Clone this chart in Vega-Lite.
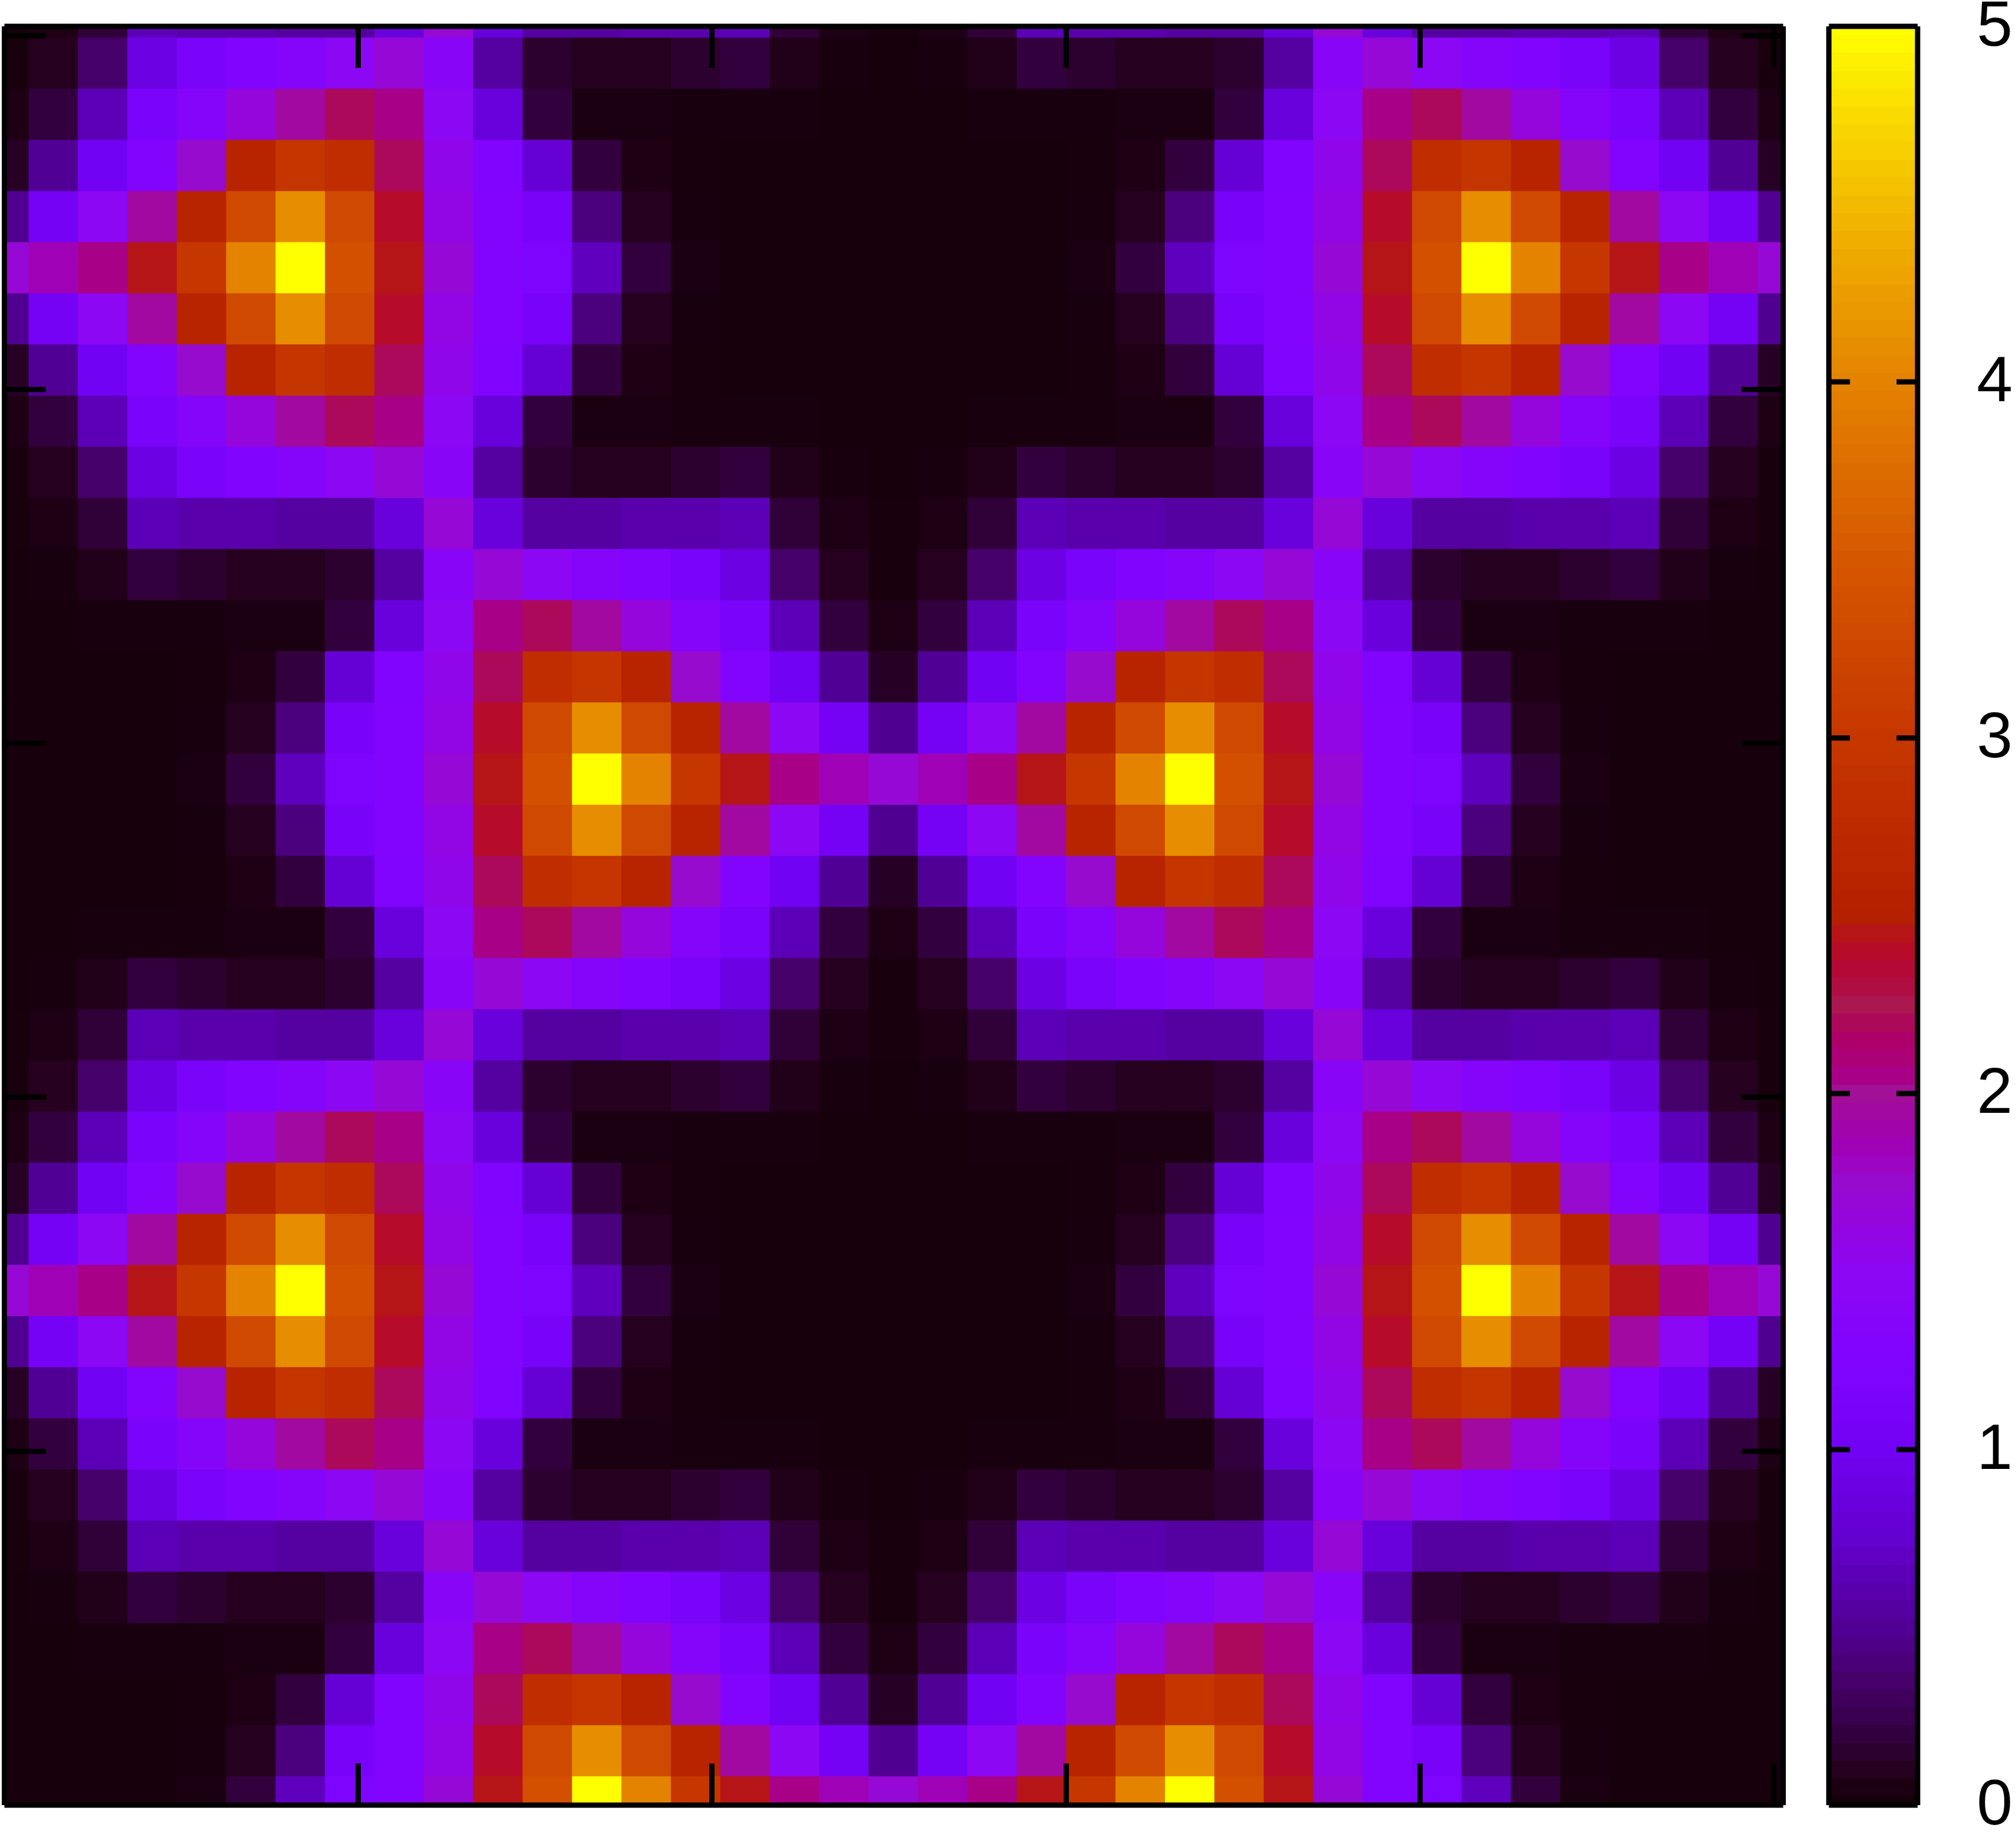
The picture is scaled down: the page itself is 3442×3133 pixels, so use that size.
{"$schema":"https://vega.github.io/schema/vega-lite/v6.json","background":"white","padding":{"left":2,"top":-10.5,"right":0,"bottom":0},"spacing":68,"config":{"view":{"stroke":null},"axis":{"grid":false,"title":null,"labels":false,"domain":true,"domainColor":"black","domainWidth":9,"tickColor":"black","tickWidth":9}},"hconcat":[{"width":3037,"height":3037,"layer":[{"data":{"values":[
{"x":0,"y":0,"v":0.02},{"x":1,"y":0,"v":0.02},{"x":2,"y":0,"v":0.02},{"x":3,"y":0,"v":0.02},{"x":4,"y":0,"v":0.05},{"x":5,"y":0,"v":0.2},{"x":6,"y":0,"v":0.68},{"x":7,"y":0,"v":1.2},{"x":8,"y":0,"v":1.3},{"x":9,"y":0,"v":1.7},{"x":10,"y":0,"v":2.45},{"x":11,"y":0,"v":3.4},{"x":12,"y":0,"v":5},{"x":13,"y":0,"v":4},{"x":14,"y":0,"v":3},{"x":15,"y":0,"v":2.45},{"x":16,"y":0,"v":2.05},{"x":17,"y":0,"v":1.85},{"x":18,"y":0,"v":1.7},{"x":19,"y":0,"v":1.85},{"x":20,"y":0,"v":2.05},{"x":21,"y":0,"v":2.45},{"x":22,"y":0,"v":3},{"x":23,"y":0,"v":4},{"x":24,"y":0,"v":5},{"x":25,"y":0,"v":3.4},{"x":26,"y":0,"v":2.45},{"x":27,"y":0,"v":1.7},{"x":28,"y":0,"v":1.3},{"x":29,"y":0,"v":1.2},{"x":30,"y":0,"v":0.68},{"x":31,"y":0,"v":0.2},{"x":32,"y":0,"v":0.05},{"x":33,"y":0,"v":0.02},{"x":34,"y":0,"v":0.02},{"x":35,"y":0,"v":0.02},{"x":36,"y":0,"v":0.02},
{"x":0,"y":1,"v":0.02},{"x":1,"y":1,"v":0.02},{"x":2,"y":1,"v":0.02},{"x":3,"y":1,"v":0.02},{"x":4,"y":1,"v":0.04},{"x":5,"y":1,"v":0.1},{"x":6,"y":1,"v":0.42},{"x":7,"y":1,"v":1.1},{"x":8,"y":1,"v":1.3},{"x":9,"y":1,"v":1.6},{"x":10,"y":1,"v":2.4},{"x":11,"y":1,"v":3.3},{"x":12,"y":1,"v":4.1},{"x":13,"y":1,"v":3.3},{"x":14,"y":1,"v":2.6},{"x":15,"y":1,"v":1.95},{"x":16,"y":1,"v":1.5},{"x":17,"y":1,"v":1.05},{"x":18,"y":1,"v":0.48},{"x":19,"y":1,"v":1.05},{"x":20,"y":1,"v":1.5},{"x":21,"y":1,"v":1.95},{"x":22,"y":1,"v":2.6},{"x":23,"y":1,"v":3.3},{"x":24,"y":1,"v":4.1},{"x":25,"y":1,"v":3.3},{"x":26,"y":1,"v":2.4},{"x":27,"y":1,"v":1.6},{"x":28,"y":1,"v":1.3},{"x":29,"y":1,"v":1.1},{"x":30,"y":1,"v":0.42},{"x":31,"y":1,"v":0.1},{"x":32,"y":1,"v":0.04},{"x":33,"y":1,"v":0.02},{"x":34,"y":1,"v":0.02},{"x":35,"y":1,"v":0.02},{"x":36,"y":1,"v":0.02},
{"x":0,"y":2,"v":0.02},{"x":1,"y":2,"v":0.02},{"x":2,"y":2,"v":0.02},{"x":3,"y":2,"v":0.02},{"x":4,"y":2,"v":0.03},{"x":5,"y":2,"v":0.06},{"x":6,"y":2,"v":0.2},{"x":7,"y":2,"v":0.8},{"x":8,"y":2,"v":1.25},{"x":9,"y":2,"v":1.55},{"x":10,"y":2,"v":2.2},{"x":11,"y":2,"v":2.8},{"x":12,"y":2,"v":2.95},{"x":13,"y":2,"v":2.6},{"x":14,"y":2,"v":1.75},{"x":15,"y":2,"v":1.3},{"x":16,"y":2,"v":1},{"x":17,"y":2,"v":0.5},{"x":18,"y":2,"v":0.12},{"x":19,"y":2,"v":0.5},{"x":20,"y":2,"v":1},{"x":21,"y":2,"v":1.3},{"x":22,"y":2,"v":1.75},{"x":23,"y":2,"v":2.6},{"x":24,"y":2,"v":2.95},{"x":25,"y":2,"v":2.8},{"x":26,"y":2,"v":2.2},{"x":27,"y":2,"v":1.55},{"x":28,"y":2,"v":1.25},{"x":29,"y":2,"v":0.8},{"x":30,"y":2,"v":0.2},{"x":31,"y":2,"v":0.06},{"x":32,"y":2,"v":0.03},{"x":33,"y":2,"v":0.02},{"x":34,"y":2,"v":0.02},{"x":35,"y":2,"v":0.02},{"x":36,"y":2,"v":0.02},
{"x":0,"y":3,"v":0.02},{"x":1,"y":3,"v":0.02},{"x":2,"y":3,"v":0.04},{"x":3,"y":3,"v":0.04},{"x":4,"y":3,"v":0.04},{"x":5,"y":3,"v":0.05},{"x":6,"y":3,"v":0.05},{"x":7,"y":3,"v":0.2},{"x":8,"y":3,"v":0.85},{"x":9,"y":3,"v":1.5},{"x":10,"y":3,"v":2.05},{"x":11,"y":3,"v":2.2},{"x":12,"y":3,"v":1.95},{"x":13,"y":3,"v":1.65},{"x":14,"y":3,"v":1.35},{"x":15,"y":3,"v":1.15},{"x":16,"y":3,"v":0.65},{"x":17,"y":3,"v":0.2},{"x":18,"y":3,"v":0.06},{"x":19,"y":3,"v":0.2},{"x":20,"y":3,"v":0.65},{"x":21,"y":3,"v":1.15},{"x":22,"y":3,"v":1.35},{"x":23,"y":3,"v":1.65},{"x":24,"y":3,"v":1.95},{"x":25,"y":3,"v":2.2},{"x":26,"y":3,"v":2.05},{"x":27,"y":3,"v":1.5},{"x":28,"y":3,"v":0.85},{"x":29,"y":3,"v":0.2},{"x":30,"y":3,"v":0.05},{"x":31,"y":3,"v":0.05},{"x":32,"y":3,"v":0.04},{"x":33,"y":3,"v":0.04},{"x":34,"y":3,"v":0.04},{"x":35,"y":3,"v":0.02},{"x":36,"y":3,"v":0.02},
{"x":0,"y":4,"v":0.02},{"x":1,"y":4,"v":0.04},{"x":2,"y":4,"v":0.08},{"x":3,"y":4,"v":0.2},{"x":4,"y":4,"v":0.15},{"x":5,"y":4,"v":0.1},{"x":6,"y":4,"v":0.1},{"x":7,"y":4,"v":0.15},{"x":8,"y":4,"v":0.55},{"x":9,"y":4,"v":1.4},{"x":10,"y":4,"v":1.7},{"x":11,"y":4,"v":1.5},{"x":12,"y":4,"v":1.35},{"x":13,"y":4,"v":1.25},{"x":14,"y":4,"v":1.15},{"x":15,"y":4,"v":0.9},{"x":16,"y":4,"v":0.35},{"x":17,"y":4,"v":0.1},{"x":18,"y":4,"v":0.03},{"x":19,"y":4,"v":0.1},{"x":20,"y":4,"v":0.35},{"x":21,"y":4,"v":0.9},{"x":22,"y":4,"v":1.15},{"x":23,"y":4,"v":1.25},{"x":24,"y":4,"v":1.35},{"x":25,"y":4,"v":1.5},{"x":26,"y":4,"v":1.7},{"x":27,"y":4,"v":1.4},{"x":28,"y":4,"v":0.55},{"x":29,"y":4,"v":0.15},{"x":30,"y":4,"v":0.1},{"x":31,"y":4,"v":0.1},{"x":32,"y":4,"v":0.15},{"x":33,"y":4,"v":0.2},{"x":34,"y":4,"v":0.08},{"x":35,"y":4,"v":0.04},{"x":36,"y":4,"v":0.02},
{"x":0,"y":5,"v":0.03},{"x":1,"y":5,"v":0.06},{"x":2,"y":5,"v":0.18},{"x":3,"y":5,"v":0.65},{"x":4,"y":5,"v":0.6},{"x":5,"y":5,"v":0.6},{"x":6,"y":5,"v":0.55},{"x":7,"y":5,"v":0.55},{"x":8,"y":5,"v":0.85},{"x":9,"y":5,"v":1.7},{"x":10,"y":5,"v":0.85},{"x":11,"y":5,"v":0.55},{"x":12,"y":5,"v":0.55},{"x":13,"y":5,"v":0.6},{"x":14,"y":5,"v":0.6},{"x":15,"y":5,"v":0.65},{"x":16,"y":5,"v":0.18},{"x":17,"y":5,"v":0.06},{"x":18,"y":5,"v":0.03},{"x":19,"y":5,"v":0.06},{"x":20,"y":5,"v":0.18},{"x":21,"y":5,"v":0.65},{"x":22,"y":5,"v":0.6},{"x":23,"y":5,"v":0.6},{"x":24,"y":5,"v":0.55},{"x":25,"y":5,"v":0.55},{"x":26,"y":5,"v":0.85},{"x":27,"y":5,"v":1.7},{"x":28,"y":5,"v":0.85},{"x":29,"y":5,"v":0.55},{"x":30,"y":5,"v":0.55},{"x":31,"y":5,"v":0.6},{"x":32,"y":5,"v":0.6},{"x":33,"y":5,"v":0.65},{"x":34,"y":5,"v":0.18},{"x":35,"y":5,"v":0.06},{"x":36,"y":5,"v":0.03},
{"x":0,"y":6,"v":0.03},{"x":1,"y":6,"v":0.1},{"x":2,"y":6,"v":0.35},{"x":3,"y":6,"v":0.9},{"x":4,"y":6,"v":1.15},{"x":5,"y":6,"v":1.25},{"x":6,"y":6,"v":1.35},{"x":7,"y":6,"v":1.5},{"x":8,"y":6,"v":1.7},{"x":9,"y":6,"v":1.4},{"x":10,"y":6,"v":0.55},{"x":11,"y":6,"v":0.15},{"x":12,"y":6,"v":0.1},{"x":13,"y":6,"v":0.1},{"x":14,"y":6,"v":0.15},{"x":15,"y":6,"v":0.2},{"x":16,"y":6,"v":0.08},{"x":17,"y":6,"v":0.04},{"x":18,"y":6,"v":0.02},{"x":19,"y":6,"v":0.04},{"x":20,"y":6,"v":0.08},{"x":21,"y":6,"v":0.2},{"x":22,"y":6,"v":0.15},{"x":23,"y":6,"v":0.1},{"x":24,"y":6,"v":0.1},{"x":25,"y":6,"v":0.15},{"x":26,"y":6,"v":0.55},{"x":27,"y":6,"v":1.4},{"x":28,"y":6,"v":1.7},{"x":29,"y":6,"v":1.5},{"x":30,"y":6,"v":1.35},{"x":31,"y":6,"v":1.25},{"x":32,"y":6,"v":1.15},{"x":33,"y":6,"v":0.9},{"x":34,"y":6,"v":0.35},{"x":35,"y":6,"v":0.1},{"x":36,"y":6,"v":0.03},
{"x":0,"y":7,"v":0.06},{"x":1,"y":7,"v":0.2},{"x":2,"y":7,"v":0.65},{"x":3,"y":7,"v":1.15},{"x":4,"y":7,"v":1.35},{"x":5,"y":7,"v":1.65},{"x":6,"y":7,"v":1.95},{"x":7,"y":7,"v":2.2},{"x":8,"y":7,"v":2.05},{"x":9,"y":7,"v":1.5},{"x":10,"y":7,"v":0.85},{"x":11,"y":7,"v":0.2},{"x":12,"y":7,"v":0.05},{"x":13,"y":7,"v":0.05},{"x":14,"y":7,"v":0.04},{"x":15,"y":7,"v":0.04},{"x":16,"y":7,"v":0.04},{"x":17,"y":7,"v":0.02},{"x":18,"y":7,"v":0.02},{"x":19,"y":7,"v":0.02},{"x":20,"y":7,"v":0.04},{"x":21,"y":7,"v":0.04},{"x":22,"y":7,"v":0.04},{"x":23,"y":7,"v":0.05},{"x":24,"y":7,"v":0.05},{"x":25,"y":7,"v":0.2},{"x":26,"y":7,"v":0.85},{"x":27,"y":7,"v":1.5},{"x":28,"y":7,"v":2.05},{"x":29,"y":7,"v":2.2},{"x":30,"y":7,"v":1.95},{"x":31,"y":7,"v":1.65},{"x":32,"y":7,"v":1.35},{"x":33,"y":7,"v":1.15},{"x":34,"y":7,"v":0.65},{"x":35,"y":7,"v":0.2},{"x":36,"y":7,"v":0.06},
{"x":0,"y":8,"v":0.12},{"x":1,"y":8,"v":0.5},{"x":2,"y":8,"v":1},{"x":3,"y":8,"v":1.3},{"x":4,"y":8,"v":1.75},{"x":5,"y":8,"v":2.6},{"x":6,"y":8,"v":2.95},{"x":7,"y":8,"v":2.8},{"x":8,"y":8,"v":2.2},{"x":9,"y":8,"v":1.55},{"x":10,"y":8,"v":1.25},{"x":11,"y":8,"v":0.8},{"x":12,"y":8,"v":0.2},{"x":13,"y":8,"v":0.06},{"x":14,"y":8,"v":0.03},{"x":15,"y":8,"v":0.02},{"x":16,"y":8,"v":0.02},{"x":17,"y":8,"v":0.02},{"x":18,"y":8,"v":0.02},{"x":19,"y":8,"v":0.02},{"x":20,"y":8,"v":0.02},{"x":21,"y":8,"v":0.02},{"x":22,"y":8,"v":0.03},{"x":23,"y":8,"v":0.06},{"x":24,"y":8,"v":0.2},{"x":25,"y":8,"v":0.8},{"x":26,"y":8,"v":1.25},{"x":27,"y":8,"v":1.55},{"x":28,"y":8,"v":2.2},{"x":29,"y":8,"v":2.8},{"x":30,"y":8,"v":2.95},{"x":31,"y":8,"v":2.6},{"x":32,"y":8,"v":1.75},{"x":33,"y":8,"v":1.3},{"x":34,"y":8,"v":1},{"x":35,"y":8,"v":0.5},{"x":36,"y":8,"v":0.12},
{"x":0,"y":9,"v":0.48},{"x":1,"y":9,"v":1.05},{"x":2,"y":9,"v":1.5},{"x":3,"y":9,"v":1.95},{"x":4,"y":9,"v":2.6},{"x":5,"y":9,"v":3.3},{"x":6,"y":9,"v":4.1},{"x":7,"y":9,"v":3.3},{"x":8,"y":9,"v":2.4},{"x":9,"y":9,"v":1.6},{"x":10,"y":9,"v":1.3},{"x":11,"y":9,"v":1.1},{"x":12,"y":9,"v":0.42},{"x":13,"y":9,"v":0.1},{"x":14,"y":9,"v":0.04},{"x":15,"y":9,"v":0.02},{"x":16,"y":9,"v":0.02},{"x":17,"y":9,"v":0.02},{"x":18,"y":9,"v":0.02},{"x":19,"y":9,"v":0.02},{"x":20,"y":9,"v":0.02},{"x":21,"y":9,"v":0.02},{"x":22,"y":9,"v":0.04},{"x":23,"y":9,"v":0.1},{"x":24,"y":9,"v":0.42},{"x":25,"y":9,"v":1.1},{"x":26,"y":9,"v":1.3},{"x":27,"y":9,"v":1.6},{"x":28,"y":9,"v":2.4},{"x":29,"y":9,"v":3.3},{"x":30,"y":9,"v":4.1},{"x":31,"y":9,"v":3.3},{"x":32,"y":9,"v":2.6},{"x":33,"y":9,"v":1.95},{"x":34,"y":9,"v":1.5},{"x":35,"y":9,"v":1.05},{"x":36,"y":9,"v":0.48},
{"x":0,"y":10,"v":1.7},{"x":1,"y":10,"v":1.85},{"x":2,"y":10,"v":2.05},{"x":3,"y":10,"v":2.45},{"x":4,"y":10,"v":3},{"x":5,"y":10,"v":4},{"x":6,"y":10,"v":5},{"x":7,"y":10,"v":3.4},{"x":8,"y":10,"v":2.45},{"x":9,"y":10,"v":1.7},{"x":10,"y":10,"v":1.3},{"x":11,"y":10,"v":1.2},{"x":12,"y":10,"v":0.68},{"x":13,"y":10,"v":0.2},{"x":14,"y":10,"v":0.05},{"x":15,"y":10,"v":0.02},{"x":16,"y":10,"v":0.02},{"x":17,"y":10,"v":0.02},{"x":18,"y":10,"v":0.02},{"x":19,"y":10,"v":0.02},{"x":20,"y":10,"v":0.02},{"x":21,"y":10,"v":0.02},{"x":22,"y":10,"v":0.05},{"x":23,"y":10,"v":0.2},{"x":24,"y":10,"v":0.68},{"x":25,"y":10,"v":1.2},{"x":26,"y":10,"v":1.3},{"x":27,"y":10,"v":1.7},{"x":28,"y":10,"v":2.45},{"x":29,"y":10,"v":3.4},{"x":30,"y":10,"v":5},{"x":31,"y":10,"v":4},{"x":32,"y":10,"v":3},{"x":33,"y":10,"v":2.45},{"x":34,"y":10,"v":2.05},{"x":35,"y":10,"v":1.85},{"x":36,"y":10,"v":1.7},
{"x":0,"y":11,"v":0.48},{"x":1,"y":11,"v":1.05},{"x":2,"y":11,"v":1.5},{"x":3,"y":11,"v":1.95},{"x":4,"y":11,"v":2.6},{"x":5,"y":11,"v":3.3},{"x":6,"y":11,"v":4.1},{"x":7,"y":11,"v":3.3},{"x":8,"y":11,"v":2.4},{"x":9,"y":11,"v":1.6},{"x":10,"y":11,"v":1.3},{"x":11,"y":11,"v":1.1},{"x":12,"y":11,"v":0.42},{"x":13,"y":11,"v":0.1},{"x":14,"y":11,"v":0.04},{"x":15,"y":11,"v":0.02},{"x":16,"y":11,"v":0.02},{"x":17,"y":11,"v":0.02},{"x":18,"y":11,"v":0.02},{"x":19,"y":11,"v":0.02},{"x":20,"y":11,"v":0.02},{"x":21,"y":11,"v":0.02},{"x":22,"y":11,"v":0.04},{"x":23,"y":11,"v":0.1},{"x":24,"y":11,"v":0.42},{"x":25,"y":11,"v":1.1},{"x":26,"y":11,"v":1.3},{"x":27,"y":11,"v":1.6},{"x":28,"y":11,"v":2.4},{"x":29,"y":11,"v":3.3},{"x":30,"y":11,"v":4.1},{"x":31,"y":11,"v":3.3},{"x":32,"y":11,"v":2.6},{"x":33,"y":11,"v":1.95},{"x":34,"y":11,"v":1.5},{"x":35,"y":11,"v":1.05},{"x":36,"y":11,"v":0.48},
{"x":0,"y":12,"v":0.12},{"x":1,"y":12,"v":0.5},{"x":2,"y":12,"v":1},{"x":3,"y":12,"v":1.3},{"x":4,"y":12,"v":1.75},{"x":5,"y":12,"v":2.6},{"x":6,"y":12,"v":2.95},{"x":7,"y":12,"v":2.8},{"x":8,"y":12,"v":2.2},{"x":9,"y":12,"v":1.55},{"x":10,"y":12,"v":1.25},{"x":11,"y":12,"v":0.8},{"x":12,"y":12,"v":0.2},{"x":13,"y":12,"v":0.06},{"x":14,"y":12,"v":0.03},{"x":15,"y":12,"v":0.02},{"x":16,"y":12,"v":0.02},{"x":17,"y":12,"v":0.02},{"x":18,"y":12,"v":0.02},{"x":19,"y":12,"v":0.02},{"x":20,"y":12,"v":0.02},{"x":21,"y":12,"v":0.02},{"x":22,"y":12,"v":0.03},{"x":23,"y":12,"v":0.06},{"x":24,"y":12,"v":0.2},{"x":25,"y":12,"v":0.8},{"x":26,"y":12,"v":1.25},{"x":27,"y":12,"v":1.55},{"x":28,"y":12,"v":2.2},{"x":29,"y":12,"v":2.8},{"x":30,"y":12,"v":2.95},{"x":31,"y":12,"v":2.6},{"x":32,"y":12,"v":1.75},{"x":33,"y":12,"v":1.3},{"x":34,"y":12,"v":1},{"x":35,"y":12,"v":0.5},{"x":36,"y":12,"v":0.12},
{"x":0,"y":13,"v":0.06},{"x":1,"y":13,"v":0.2},{"x":2,"y":13,"v":0.65},{"x":3,"y":13,"v":1.15},{"x":4,"y":13,"v":1.35},{"x":5,"y":13,"v":1.65},{"x":6,"y":13,"v":1.95},{"x":7,"y":13,"v":2.2},{"x":8,"y":13,"v":2.05},{"x":9,"y":13,"v":1.5},{"x":10,"y":13,"v":0.85},{"x":11,"y":13,"v":0.2},{"x":12,"y":13,"v":0.05},{"x":13,"y":13,"v":0.05},{"x":14,"y":13,"v":0.04},{"x":15,"y":13,"v":0.04},{"x":16,"y":13,"v":0.04},{"x":17,"y":13,"v":0.02},{"x":18,"y":13,"v":0.02},{"x":19,"y":13,"v":0.02},{"x":20,"y":13,"v":0.04},{"x":21,"y":13,"v":0.04},{"x":22,"y":13,"v":0.04},{"x":23,"y":13,"v":0.05},{"x":24,"y":13,"v":0.05},{"x":25,"y":13,"v":0.2},{"x":26,"y":13,"v":0.85},{"x":27,"y":13,"v":1.5},{"x":28,"y":13,"v":2.05},{"x":29,"y":13,"v":2.2},{"x":30,"y":13,"v":1.95},{"x":31,"y":13,"v":1.65},{"x":32,"y":13,"v":1.35},{"x":33,"y":13,"v":1.15},{"x":34,"y":13,"v":0.65},{"x":35,"y":13,"v":0.2},{"x":36,"y":13,"v":0.06},
{"x":0,"y":14,"v":0.03},{"x":1,"y":14,"v":0.1},{"x":2,"y":14,"v":0.35},{"x":3,"y":14,"v":0.9},{"x":4,"y":14,"v":1.15},{"x":5,"y":14,"v":1.25},{"x":6,"y":14,"v":1.35},{"x":7,"y":14,"v":1.5},{"x":8,"y":14,"v":1.7},{"x":9,"y":14,"v":1.4},{"x":10,"y":14,"v":0.55},{"x":11,"y":14,"v":0.15},{"x":12,"y":14,"v":0.1},{"x":13,"y":14,"v":0.1},{"x":14,"y":14,"v":0.15},{"x":15,"y":14,"v":0.2},{"x":16,"y":14,"v":0.08},{"x":17,"y":14,"v":0.04},{"x":18,"y":14,"v":0.02},{"x":19,"y":14,"v":0.04},{"x":20,"y":14,"v":0.08},{"x":21,"y":14,"v":0.2},{"x":22,"y":14,"v":0.15},{"x":23,"y":14,"v":0.1},{"x":24,"y":14,"v":0.1},{"x":25,"y":14,"v":0.15},{"x":26,"y":14,"v":0.55},{"x":27,"y":14,"v":1.4},{"x":28,"y":14,"v":1.7},{"x":29,"y":14,"v":1.5},{"x":30,"y":14,"v":1.35},{"x":31,"y":14,"v":1.25},{"x":32,"y":14,"v":1.15},{"x":33,"y":14,"v":0.9},{"x":34,"y":14,"v":0.35},{"x":35,"y":14,"v":0.1},{"x":36,"y":14,"v":0.03},
{"x":0,"y":15,"v":0.03},{"x":1,"y":15,"v":0.06},{"x":2,"y":15,"v":0.18},{"x":3,"y":15,"v":0.65},{"x":4,"y":15,"v":0.6},{"x":5,"y":15,"v":0.6},{"x":6,"y":15,"v":0.55},{"x":7,"y":15,"v":0.55},{"x":8,"y":15,"v":0.85},{"x":9,"y":15,"v":1.7},{"x":10,"y":15,"v":0.85},{"x":11,"y":15,"v":0.55},{"x":12,"y":15,"v":0.55},{"x":13,"y":15,"v":0.6},{"x":14,"y":15,"v":0.6},{"x":15,"y":15,"v":0.65},{"x":16,"y":15,"v":0.18},{"x":17,"y":15,"v":0.06},{"x":18,"y":15,"v":0.03},{"x":19,"y":15,"v":0.06},{"x":20,"y":15,"v":0.18},{"x":21,"y":15,"v":0.65},{"x":22,"y":15,"v":0.6},{"x":23,"y":15,"v":0.6},{"x":24,"y":15,"v":0.55},{"x":25,"y":15,"v":0.55},{"x":26,"y":15,"v":0.85},{"x":27,"y":15,"v":1.7},{"x":28,"y":15,"v":0.85},{"x":29,"y":15,"v":0.55},{"x":30,"y":15,"v":0.55},{"x":31,"y":15,"v":0.6},{"x":32,"y":15,"v":0.6},{"x":33,"y":15,"v":0.65},{"x":34,"y":15,"v":0.18},{"x":35,"y":15,"v":0.06},{"x":36,"y":15,"v":0.03},
{"x":0,"y":16,"v":0.02},{"x":1,"y":16,"v":0.04},{"x":2,"y":16,"v":0.08},{"x":3,"y":16,"v":0.2},{"x":4,"y":16,"v":0.15},{"x":5,"y":16,"v":0.1},{"x":6,"y":16,"v":0.1},{"x":7,"y":16,"v":0.15},{"x":8,"y":16,"v":0.55},{"x":9,"y":16,"v":1.4},{"x":10,"y":16,"v":1.7},{"x":11,"y":16,"v":1.5},{"x":12,"y":16,"v":1.35},{"x":13,"y":16,"v":1.25},{"x":14,"y":16,"v":1.15},{"x":15,"y":16,"v":0.9},{"x":16,"y":16,"v":0.35},{"x":17,"y":16,"v":0.1},{"x":18,"y":16,"v":0.03},{"x":19,"y":16,"v":0.1},{"x":20,"y":16,"v":0.35},{"x":21,"y":16,"v":0.9},{"x":22,"y":16,"v":1.15},{"x":23,"y":16,"v":1.25},{"x":24,"y":16,"v":1.35},{"x":25,"y":16,"v":1.5},{"x":26,"y":16,"v":1.7},{"x":27,"y":16,"v":1.4},{"x":28,"y":16,"v":0.55},{"x":29,"y":16,"v":0.15},{"x":30,"y":16,"v":0.1},{"x":31,"y":16,"v":0.1},{"x":32,"y":16,"v":0.15},{"x":33,"y":16,"v":0.2},{"x":34,"y":16,"v":0.08},{"x":35,"y":16,"v":0.04},{"x":36,"y":16,"v":0.02},
{"x":0,"y":17,"v":0.02},{"x":1,"y":17,"v":0.02},{"x":2,"y":17,"v":0.04},{"x":3,"y":17,"v":0.04},{"x":4,"y":17,"v":0.04},{"x":5,"y":17,"v":0.05},{"x":6,"y":17,"v":0.05},{"x":7,"y":17,"v":0.2},{"x":8,"y":17,"v":0.85},{"x":9,"y":17,"v":1.5},{"x":10,"y":17,"v":2.05},{"x":11,"y":17,"v":2.2},{"x":12,"y":17,"v":1.95},{"x":13,"y":17,"v":1.65},{"x":14,"y":17,"v":1.35},{"x":15,"y":17,"v":1.15},{"x":16,"y":17,"v":0.65},{"x":17,"y":17,"v":0.2},{"x":18,"y":17,"v":0.06},{"x":19,"y":17,"v":0.2},{"x":20,"y":17,"v":0.65},{"x":21,"y":17,"v":1.15},{"x":22,"y":17,"v":1.35},{"x":23,"y":17,"v":1.65},{"x":24,"y":17,"v":1.95},{"x":25,"y":17,"v":2.2},{"x":26,"y":17,"v":2.05},{"x":27,"y":17,"v":1.5},{"x":28,"y":17,"v":0.85},{"x":29,"y":17,"v":0.2},{"x":30,"y":17,"v":0.05},{"x":31,"y":17,"v":0.05},{"x":32,"y":17,"v":0.04},{"x":33,"y":17,"v":0.04},{"x":34,"y":17,"v":0.04},{"x":35,"y":17,"v":0.02},{"x":36,"y":17,"v":0.02},
{"x":0,"y":18,"v":0.02},{"x":1,"y":18,"v":0.02},{"x":2,"y":18,"v":0.02},{"x":3,"y":18,"v":0.02},{"x":4,"y":18,"v":0.03},{"x":5,"y":18,"v":0.06},{"x":6,"y":18,"v":0.2},{"x":7,"y":18,"v":0.8},{"x":8,"y":18,"v":1.25},{"x":9,"y":18,"v":1.55},{"x":10,"y":18,"v":2.2},{"x":11,"y":18,"v":2.8},{"x":12,"y":18,"v":2.95},{"x":13,"y":18,"v":2.6},{"x":14,"y":18,"v":1.75},{"x":15,"y":18,"v":1.3},{"x":16,"y":18,"v":1},{"x":17,"y":18,"v":0.5},{"x":18,"y":18,"v":0.12},{"x":19,"y":18,"v":0.5},{"x":20,"y":18,"v":1},{"x":21,"y":18,"v":1.3},{"x":22,"y":18,"v":1.75},{"x":23,"y":18,"v":2.6},{"x":24,"y":18,"v":2.95},{"x":25,"y":18,"v":2.8},{"x":26,"y":18,"v":2.2},{"x":27,"y":18,"v":1.55},{"x":28,"y":18,"v":1.25},{"x":29,"y":18,"v":0.8},{"x":30,"y":18,"v":0.2},{"x":31,"y":18,"v":0.06},{"x":32,"y":18,"v":0.03},{"x":33,"y":18,"v":0.02},{"x":34,"y":18,"v":0.02},{"x":35,"y":18,"v":0.02},{"x":36,"y":18,"v":0.02},
{"x":0,"y":19,"v":0.02},{"x":1,"y":19,"v":0.02},{"x":2,"y":19,"v":0.02},{"x":3,"y":19,"v":0.02},{"x":4,"y":19,"v":0.04},{"x":5,"y":19,"v":0.1},{"x":6,"y":19,"v":0.42},{"x":7,"y":19,"v":1.1},{"x":8,"y":19,"v":1.3},{"x":9,"y":19,"v":1.6},{"x":10,"y":19,"v":2.4},{"x":11,"y":19,"v":3.3},{"x":12,"y":19,"v":4.1},{"x":13,"y":19,"v":3.3},{"x":14,"y":19,"v":2.6},{"x":15,"y":19,"v":1.95},{"x":16,"y":19,"v":1.5},{"x":17,"y":19,"v":1.05},{"x":18,"y":19,"v":0.48},{"x":19,"y":19,"v":1.05},{"x":20,"y":19,"v":1.5},{"x":21,"y":19,"v":1.95},{"x":22,"y":19,"v":2.6},{"x":23,"y":19,"v":3.3},{"x":24,"y":19,"v":4.1},{"x":25,"y":19,"v":3.3},{"x":26,"y":19,"v":2.4},{"x":27,"y":19,"v":1.6},{"x":28,"y":19,"v":1.3},{"x":29,"y":19,"v":1.1},{"x":30,"y":19,"v":0.42},{"x":31,"y":19,"v":0.1},{"x":32,"y":19,"v":0.04},{"x":33,"y":19,"v":0.02},{"x":34,"y":19,"v":0.02},{"x":35,"y":19,"v":0.02},{"x":36,"y":19,"v":0.02},
{"x":0,"y":20,"v":0.02},{"x":1,"y":20,"v":0.02},{"x":2,"y":20,"v":0.02},{"x":3,"y":20,"v":0.02},{"x":4,"y":20,"v":0.05},{"x":5,"y":20,"v":0.2},{"x":6,"y":20,"v":0.68},{"x":7,"y":20,"v":1.2},{"x":8,"y":20,"v":1.3},{"x":9,"y":20,"v":1.7},{"x":10,"y":20,"v":2.45},{"x":11,"y":20,"v":3.4},{"x":12,"y":20,"v":5},{"x":13,"y":20,"v":4},{"x":14,"y":20,"v":3},{"x":15,"y":20,"v":2.45},{"x":16,"y":20,"v":2.05},{"x":17,"y":20,"v":1.85},{"x":18,"y":20,"v":1.7},{"x":19,"y":20,"v":1.85},{"x":20,"y":20,"v":2.05},{"x":21,"y":20,"v":2.45},{"x":22,"y":20,"v":3},{"x":23,"y":20,"v":4},{"x":24,"y":20,"v":5},{"x":25,"y":20,"v":3.4},{"x":26,"y":20,"v":2.45},{"x":27,"y":20,"v":1.7},{"x":28,"y":20,"v":1.3},{"x":29,"y":20,"v":1.2},{"x":30,"y":20,"v":0.68},{"x":31,"y":20,"v":0.2},{"x":32,"y":20,"v":0.05},{"x":33,"y":20,"v":0.02},{"x":34,"y":20,"v":0.02},{"x":35,"y":20,"v":0.02},{"x":36,"y":20,"v":0.02},
{"x":0,"y":21,"v":0.02},{"x":1,"y":21,"v":0.02},{"x":2,"y":21,"v":0.02},{"x":3,"y":21,"v":0.02},{"x":4,"y":21,"v":0.04},{"x":5,"y":21,"v":0.1},{"x":6,"y":21,"v":0.42},{"x":7,"y":21,"v":1.1},{"x":8,"y":21,"v":1.3},{"x":9,"y":21,"v":1.6},{"x":10,"y":21,"v":2.4},{"x":11,"y":21,"v":3.3},{"x":12,"y":21,"v":4.1},{"x":13,"y":21,"v":3.3},{"x":14,"y":21,"v":2.6},{"x":15,"y":21,"v":1.95},{"x":16,"y":21,"v":1.5},{"x":17,"y":21,"v":1.05},{"x":18,"y":21,"v":0.48},{"x":19,"y":21,"v":1.05},{"x":20,"y":21,"v":1.5},{"x":21,"y":21,"v":1.95},{"x":22,"y":21,"v":2.6},{"x":23,"y":21,"v":3.3},{"x":24,"y":21,"v":4.1},{"x":25,"y":21,"v":3.3},{"x":26,"y":21,"v":2.4},{"x":27,"y":21,"v":1.6},{"x":28,"y":21,"v":1.3},{"x":29,"y":21,"v":1.1},{"x":30,"y":21,"v":0.42},{"x":31,"y":21,"v":0.1},{"x":32,"y":21,"v":0.04},{"x":33,"y":21,"v":0.02},{"x":34,"y":21,"v":0.02},{"x":35,"y":21,"v":0.02},{"x":36,"y":21,"v":0.02},
{"x":0,"y":22,"v":0.02},{"x":1,"y":22,"v":0.02},{"x":2,"y":22,"v":0.02},{"x":3,"y":22,"v":0.02},{"x":4,"y":22,"v":0.03},{"x":5,"y":22,"v":0.06},{"x":6,"y":22,"v":0.2},{"x":7,"y":22,"v":0.8},{"x":8,"y":22,"v":1.25},{"x":9,"y":22,"v":1.55},{"x":10,"y":22,"v":2.2},{"x":11,"y":22,"v":2.8},{"x":12,"y":22,"v":2.95},{"x":13,"y":22,"v":2.6},{"x":14,"y":22,"v":1.75},{"x":15,"y":22,"v":1.3},{"x":16,"y":22,"v":1},{"x":17,"y":22,"v":0.5},{"x":18,"y":22,"v":0.12},{"x":19,"y":22,"v":0.5},{"x":20,"y":22,"v":1},{"x":21,"y":22,"v":1.3},{"x":22,"y":22,"v":1.75},{"x":23,"y":22,"v":2.6},{"x":24,"y":22,"v":2.95},{"x":25,"y":22,"v":2.8},{"x":26,"y":22,"v":2.2},{"x":27,"y":22,"v":1.55},{"x":28,"y":22,"v":1.25},{"x":29,"y":22,"v":0.8},{"x":30,"y":22,"v":0.2},{"x":31,"y":22,"v":0.06},{"x":32,"y":22,"v":0.03},{"x":33,"y":22,"v":0.02},{"x":34,"y":22,"v":0.02},{"x":35,"y":22,"v":0.02},{"x":36,"y":22,"v":0.02},
{"x":0,"y":23,"v":0.02},{"x":1,"y":23,"v":0.02},{"x":2,"y":23,"v":0.04},{"x":3,"y":23,"v":0.04},{"x":4,"y":23,"v":0.04},{"x":5,"y":23,"v":0.05},{"x":6,"y":23,"v":0.05},{"x":7,"y":23,"v":0.2},{"x":8,"y":23,"v":0.85},{"x":9,"y":23,"v":1.5},{"x":10,"y":23,"v":2.05},{"x":11,"y":23,"v":2.2},{"x":12,"y":23,"v":1.95},{"x":13,"y":23,"v":1.65},{"x":14,"y":23,"v":1.35},{"x":15,"y":23,"v":1.15},{"x":16,"y":23,"v":0.65},{"x":17,"y":23,"v":0.2},{"x":18,"y":23,"v":0.06},{"x":19,"y":23,"v":0.2},{"x":20,"y":23,"v":0.65},{"x":21,"y":23,"v":1.15},{"x":22,"y":23,"v":1.35},{"x":23,"y":23,"v":1.65},{"x":24,"y":23,"v":1.95},{"x":25,"y":23,"v":2.2},{"x":26,"y":23,"v":2.05},{"x":27,"y":23,"v":1.5},{"x":28,"y":23,"v":0.85},{"x":29,"y":23,"v":0.2},{"x":30,"y":23,"v":0.05},{"x":31,"y":23,"v":0.05},{"x":32,"y":23,"v":0.04},{"x":33,"y":23,"v":0.04},{"x":34,"y":23,"v":0.04},{"x":35,"y":23,"v":0.02},{"x":36,"y":23,"v":0.02},
{"x":0,"y":24,"v":0.02},{"x":1,"y":24,"v":0.04},{"x":2,"y":24,"v":0.08},{"x":3,"y":24,"v":0.2},{"x":4,"y":24,"v":0.15},{"x":5,"y":24,"v":0.1},{"x":6,"y":24,"v":0.1},{"x":7,"y":24,"v":0.15},{"x":8,"y":24,"v":0.55},{"x":9,"y":24,"v":1.4},{"x":10,"y":24,"v":1.7},{"x":11,"y":24,"v":1.5},{"x":12,"y":24,"v":1.35},{"x":13,"y":24,"v":1.25},{"x":14,"y":24,"v":1.15},{"x":15,"y":24,"v":0.9},{"x":16,"y":24,"v":0.35},{"x":17,"y":24,"v":0.1},{"x":18,"y":24,"v":0.03},{"x":19,"y":24,"v":0.1},{"x":20,"y":24,"v":0.35},{"x":21,"y":24,"v":0.9},{"x":22,"y":24,"v":1.15},{"x":23,"y":24,"v":1.25},{"x":24,"y":24,"v":1.35},{"x":25,"y":24,"v":1.5},{"x":26,"y":24,"v":1.7},{"x":27,"y":24,"v":1.4},{"x":28,"y":24,"v":0.55},{"x":29,"y":24,"v":0.15},{"x":30,"y":24,"v":0.1},{"x":31,"y":24,"v":0.1},{"x":32,"y":24,"v":0.15},{"x":33,"y":24,"v":0.2},{"x":34,"y":24,"v":0.08},{"x":35,"y":24,"v":0.04},{"x":36,"y":24,"v":0.02},
{"x":0,"y":25,"v":0.03},{"x":1,"y":25,"v":0.06},{"x":2,"y":25,"v":0.18},{"x":3,"y":25,"v":0.65},{"x":4,"y":25,"v":0.6},{"x":5,"y":25,"v":0.6},{"x":6,"y":25,"v":0.55},{"x":7,"y":25,"v":0.55},{"x":8,"y":25,"v":0.85},{"x":9,"y":25,"v":1.7},{"x":10,"y":25,"v":0.85},{"x":11,"y":25,"v":0.55},{"x":12,"y":25,"v":0.55},{"x":13,"y":25,"v":0.6},{"x":14,"y":25,"v":0.6},{"x":15,"y":25,"v":0.65},{"x":16,"y":25,"v":0.18},{"x":17,"y":25,"v":0.06},{"x":18,"y":25,"v":0.03},{"x":19,"y":25,"v":0.06},{"x":20,"y":25,"v":0.18},{"x":21,"y":25,"v":0.65},{"x":22,"y":25,"v":0.6},{"x":23,"y":25,"v":0.6},{"x":24,"y":25,"v":0.55},{"x":25,"y":25,"v":0.55},{"x":26,"y":25,"v":0.85},{"x":27,"y":25,"v":1.7},{"x":28,"y":25,"v":0.85},{"x":29,"y":25,"v":0.55},{"x":30,"y":25,"v":0.55},{"x":31,"y":25,"v":0.6},{"x":32,"y":25,"v":0.6},{"x":33,"y":25,"v":0.65},{"x":34,"y":25,"v":0.18},{"x":35,"y":25,"v":0.06},{"x":36,"y":25,"v":0.03},
{"x":0,"y":26,"v":0.03},{"x":1,"y":26,"v":0.1},{"x":2,"y":26,"v":0.35},{"x":3,"y":26,"v":0.9},{"x":4,"y":26,"v":1.15},{"x":5,"y":26,"v":1.25},{"x":6,"y":26,"v":1.35},{"x":7,"y":26,"v":1.5},{"x":8,"y":26,"v":1.7},{"x":9,"y":26,"v":1.4},{"x":10,"y":26,"v":0.55},{"x":11,"y":26,"v":0.15},{"x":12,"y":26,"v":0.1},{"x":13,"y":26,"v":0.1},{"x":14,"y":26,"v":0.15},{"x":15,"y":26,"v":0.2},{"x":16,"y":26,"v":0.08},{"x":17,"y":26,"v":0.04},{"x":18,"y":26,"v":0.02},{"x":19,"y":26,"v":0.04},{"x":20,"y":26,"v":0.08},{"x":21,"y":26,"v":0.2},{"x":22,"y":26,"v":0.15},{"x":23,"y":26,"v":0.1},{"x":24,"y":26,"v":0.1},{"x":25,"y":26,"v":0.15},{"x":26,"y":26,"v":0.55},{"x":27,"y":26,"v":1.4},{"x":28,"y":26,"v":1.7},{"x":29,"y":26,"v":1.5},{"x":30,"y":26,"v":1.35},{"x":31,"y":26,"v":1.25},{"x":32,"y":26,"v":1.15},{"x":33,"y":26,"v":0.9},{"x":34,"y":26,"v":0.35},{"x":35,"y":26,"v":0.1},{"x":36,"y":26,"v":0.03},
{"x":0,"y":27,"v":0.06},{"x":1,"y":27,"v":0.2},{"x":2,"y":27,"v":0.65},{"x":3,"y":27,"v":1.15},{"x":4,"y":27,"v":1.35},{"x":5,"y":27,"v":1.65},{"x":6,"y":27,"v":1.95},{"x":7,"y":27,"v":2.2},{"x":8,"y":27,"v":2.05},{"x":9,"y":27,"v":1.5},{"x":10,"y":27,"v":0.85},{"x":11,"y":27,"v":0.2},{"x":12,"y":27,"v":0.05},{"x":13,"y":27,"v":0.05},{"x":14,"y":27,"v":0.04},{"x":15,"y":27,"v":0.04},{"x":16,"y":27,"v":0.04},{"x":17,"y":27,"v":0.02},{"x":18,"y":27,"v":0.02},{"x":19,"y":27,"v":0.02},{"x":20,"y":27,"v":0.04},{"x":21,"y":27,"v":0.04},{"x":22,"y":27,"v":0.04},{"x":23,"y":27,"v":0.05},{"x":24,"y":27,"v":0.05},{"x":25,"y":27,"v":0.2},{"x":26,"y":27,"v":0.85},{"x":27,"y":27,"v":1.5},{"x":28,"y":27,"v":2.05},{"x":29,"y":27,"v":2.2},{"x":30,"y":27,"v":1.95},{"x":31,"y":27,"v":1.65},{"x":32,"y":27,"v":1.35},{"x":33,"y":27,"v":1.15},{"x":34,"y":27,"v":0.65},{"x":35,"y":27,"v":0.2},{"x":36,"y":27,"v":0.06},
{"x":0,"y":28,"v":0.12},{"x":1,"y":28,"v":0.5},{"x":2,"y":28,"v":1},{"x":3,"y":28,"v":1.3},{"x":4,"y":28,"v":1.75},{"x":5,"y":28,"v":2.6},{"x":6,"y":28,"v":2.95},{"x":7,"y":28,"v":2.8},{"x":8,"y":28,"v":2.2},{"x":9,"y":28,"v":1.55},{"x":10,"y":28,"v":1.25},{"x":11,"y":28,"v":0.8},{"x":12,"y":28,"v":0.2},{"x":13,"y":28,"v":0.06},{"x":14,"y":28,"v":0.03},{"x":15,"y":28,"v":0.02},{"x":16,"y":28,"v":0.02},{"x":17,"y":28,"v":0.02},{"x":18,"y":28,"v":0.02},{"x":19,"y":28,"v":0.02},{"x":20,"y":28,"v":0.02},{"x":21,"y":28,"v":0.02},{"x":22,"y":28,"v":0.03},{"x":23,"y":28,"v":0.06},{"x":24,"y":28,"v":0.2},{"x":25,"y":28,"v":0.8},{"x":26,"y":28,"v":1.25},{"x":27,"y":28,"v":1.55},{"x":28,"y":28,"v":2.2},{"x":29,"y":28,"v":2.8},{"x":30,"y":28,"v":2.95},{"x":31,"y":28,"v":2.6},{"x":32,"y":28,"v":1.75},{"x":33,"y":28,"v":1.3},{"x":34,"y":28,"v":1},{"x":35,"y":28,"v":0.5},{"x":36,"y":28,"v":0.12},
{"x":0,"y":29,"v":0.48},{"x":1,"y":29,"v":1.05},{"x":2,"y":29,"v":1.5},{"x":3,"y":29,"v":1.95},{"x":4,"y":29,"v":2.6},{"x":5,"y":29,"v":3.3},{"x":6,"y":29,"v":4.1},{"x":7,"y":29,"v":3.3},{"x":8,"y":29,"v":2.4},{"x":9,"y":29,"v":1.6},{"x":10,"y":29,"v":1.3},{"x":11,"y":29,"v":1.1},{"x":12,"y":29,"v":0.42},{"x":13,"y":29,"v":0.1},{"x":14,"y":29,"v":0.04},{"x":15,"y":29,"v":0.02},{"x":16,"y":29,"v":0.02},{"x":17,"y":29,"v":0.02},{"x":18,"y":29,"v":0.02},{"x":19,"y":29,"v":0.02},{"x":20,"y":29,"v":0.02},{"x":21,"y":29,"v":0.02},{"x":22,"y":29,"v":0.04},{"x":23,"y":29,"v":0.1},{"x":24,"y":29,"v":0.42},{"x":25,"y":29,"v":1.1},{"x":26,"y":29,"v":1.3},{"x":27,"y":29,"v":1.6},{"x":28,"y":29,"v":2.4},{"x":29,"y":29,"v":3.3},{"x":30,"y":29,"v":4.1},{"x":31,"y":29,"v":3.3},{"x":32,"y":29,"v":2.6},{"x":33,"y":29,"v":1.95},{"x":34,"y":29,"v":1.5},{"x":35,"y":29,"v":1.05},{"x":36,"y":29,"v":0.48},
{"x":0,"y":30,"v":1.7},{"x":1,"y":30,"v":1.85},{"x":2,"y":30,"v":2.05},{"x":3,"y":30,"v":2.45},{"x":4,"y":30,"v":3},{"x":5,"y":30,"v":4},{"x":6,"y":30,"v":5},{"x":7,"y":30,"v":3.4},{"x":8,"y":30,"v":2.45},{"x":9,"y":30,"v":1.7},{"x":10,"y":30,"v":1.3},{"x":11,"y":30,"v":1.2},{"x":12,"y":30,"v":0.68},{"x":13,"y":30,"v":0.2},{"x":14,"y":30,"v":0.05},{"x":15,"y":30,"v":0.02},{"x":16,"y":30,"v":0.02},{"x":17,"y":30,"v":0.02},{"x":18,"y":30,"v":0.02},{"x":19,"y":30,"v":0.02},{"x":20,"y":30,"v":0.02},{"x":21,"y":30,"v":0.02},{"x":22,"y":30,"v":0.05},{"x":23,"y":30,"v":0.2},{"x":24,"y":30,"v":0.68},{"x":25,"y":30,"v":1.2},{"x":26,"y":30,"v":1.3},{"x":27,"y":30,"v":1.7},{"x":28,"y":30,"v":2.45},{"x":29,"y":30,"v":3.4},{"x":30,"y":30,"v":5},{"x":31,"y":30,"v":4},{"x":32,"y":30,"v":3},{"x":33,"y":30,"v":2.45},{"x":34,"y":30,"v":2.05},{"x":35,"y":30,"v":1.85},{"x":36,"y":30,"v":1.7},
{"x":0,"y":31,"v":0.48},{"x":1,"y":31,"v":1.05},{"x":2,"y":31,"v":1.5},{"x":3,"y":31,"v":1.95},{"x":4,"y":31,"v":2.6},{"x":5,"y":31,"v":3.3},{"x":6,"y":31,"v":4.1},{"x":7,"y":31,"v":3.3},{"x":8,"y":31,"v":2.4},{"x":9,"y":31,"v":1.6},{"x":10,"y":31,"v":1.3},{"x":11,"y":31,"v":1.1},{"x":12,"y":31,"v":0.42},{"x":13,"y":31,"v":0.1},{"x":14,"y":31,"v":0.04},{"x":15,"y":31,"v":0.02},{"x":16,"y":31,"v":0.02},{"x":17,"y":31,"v":0.02},{"x":18,"y":31,"v":0.02},{"x":19,"y":31,"v":0.02},{"x":20,"y":31,"v":0.02},{"x":21,"y":31,"v":0.02},{"x":22,"y":31,"v":0.04},{"x":23,"y":31,"v":0.1},{"x":24,"y":31,"v":0.42},{"x":25,"y":31,"v":1.1},{"x":26,"y":31,"v":1.3},{"x":27,"y":31,"v":1.6},{"x":28,"y":31,"v":2.4},{"x":29,"y":31,"v":3.3},{"x":30,"y":31,"v":4.1},{"x":31,"y":31,"v":3.3},{"x":32,"y":31,"v":2.6},{"x":33,"y":31,"v":1.95},{"x":34,"y":31,"v":1.5},{"x":35,"y":31,"v":1.05},{"x":36,"y":31,"v":0.48},
{"x":0,"y":32,"v":0.12},{"x":1,"y":32,"v":0.5},{"x":2,"y":32,"v":1},{"x":3,"y":32,"v":1.3},{"x":4,"y":32,"v":1.75},{"x":5,"y":32,"v":2.6},{"x":6,"y":32,"v":2.95},{"x":7,"y":32,"v":2.8},{"x":8,"y":32,"v":2.2},{"x":9,"y":32,"v":1.55},{"x":10,"y":32,"v":1.25},{"x":11,"y":32,"v":0.8},{"x":12,"y":32,"v":0.2},{"x":13,"y":32,"v":0.06},{"x":14,"y":32,"v":0.03},{"x":15,"y":32,"v":0.02},{"x":16,"y":32,"v":0.02},{"x":17,"y":32,"v":0.02},{"x":18,"y":32,"v":0.02},{"x":19,"y":32,"v":0.02},{"x":20,"y":32,"v":0.02},{"x":21,"y":32,"v":0.02},{"x":22,"y":32,"v":0.03},{"x":23,"y":32,"v":0.06},{"x":24,"y":32,"v":0.2},{"x":25,"y":32,"v":0.8},{"x":26,"y":32,"v":1.25},{"x":27,"y":32,"v":1.55},{"x":28,"y":32,"v":2.2},{"x":29,"y":32,"v":2.8},{"x":30,"y":32,"v":2.95},{"x":31,"y":32,"v":2.6},{"x":32,"y":32,"v":1.75},{"x":33,"y":32,"v":1.3},{"x":34,"y":32,"v":1},{"x":35,"y":32,"v":0.5},{"x":36,"y":32,"v":0.12},
{"x":0,"y":33,"v":0.06},{"x":1,"y":33,"v":0.2},{"x":2,"y":33,"v":0.65},{"x":3,"y":33,"v":1.15},{"x":4,"y":33,"v":1.35},{"x":5,"y":33,"v":1.65},{"x":6,"y":33,"v":1.95},{"x":7,"y":33,"v":2.2},{"x":8,"y":33,"v":2.05},{"x":9,"y":33,"v":1.5},{"x":10,"y":33,"v":0.85},{"x":11,"y":33,"v":0.2},{"x":12,"y":33,"v":0.05},{"x":13,"y":33,"v":0.05},{"x":14,"y":33,"v":0.04},{"x":15,"y":33,"v":0.04},{"x":16,"y":33,"v":0.04},{"x":17,"y":33,"v":0.02},{"x":18,"y":33,"v":0.02},{"x":19,"y":33,"v":0.02},{"x":20,"y":33,"v":0.04},{"x":21,"y":33,"v":0.04},{"x":22,"y":33,"v":0.04},{"x":23,"y":33,"v":0.05},{"x":24,"y":33,"v":0.05},{"x":25,"y":33,"v":0.2},{"x":26,"y":33,"v":0.85},{"x":27,"y":33,"v":1.5},{"x":28,"y":33,"v":2.05},{"x":29,"y":33,"v":2.2},{"x":30,"y":33,"v":1.95},{"x":31,"y":33,"v":1.65},{"x":32,"y":33,"v":1.35},{"x":33,"y":33,"v":1.15},{"x":34,"y":33,"v":0.65},{"x":35,"y":33,"v":0.2},{"x":36,"y":33,"v":0.06},
{"x":0,"y":34,"v":0.03},{"x":1,"y":34,"v":0.1},{"x":2,"y":34,"v":0.35},{"x":3,"y":34,"v":0.9},{"x":4,"y":34,"v":1.15},{"x":5,"y":34,"v":1.25},{"x":6,"y":34,"v":1.35},{"x":7,"y":34,"v":1.5},{"x":8,"y":34,"v":1.7},{"x":9,"y":34,"v":1.4},{"x":10,"y":34,"v":0.55},{"x":11,"y":34,"v":0.15},{"x":12,"y":34,"v":0.1},{"x":13,"y":34,"v":0.1},{"x":14,"y":34,"v":0.15},{"x":15,"y":34,"v":0.2},{"x":16,"y":34,"v":0.08},{"x":17,"y":34,"v":0.04},{"x":18,"y":34,"v":0.02},{"x":19,"y":34,"v":0.04},{"x":20,"y":34,"v":0.08},{"x":21,"y":34,"v":0.2},{"x":22,"y":34,"v":0.15},{"x":23,"y":34,"v":0.1},{"x":24,"y":34,"v":0.1},{"x":25,"y":34,"v":0.15},{"x":26,"y":34,"v":0.55},{"x":27,"y":34,"v":1.4},{"x":28,"y":34,"v":1.7},{"x":29,"y":34,"v":1.5},{"x":30,"y":34,"v":1.35},{"x":31,"y":34,"v":1.25},{"x":32,"y":34,"v":1.15},{"x":33,"y":34,"v":0.9},{"x":34,"y":34,"v":0.35},{"x":35,"y":34,"v":0.1},{"x":36,"y":34,"v":0.03},
{"x":0,"y":35,"v":0.03},{"x":1,"y":35,"v":0.06},{"x":2,"y":35,"v":0.18},{"x":3,"y":35,"v":0.65},{"x":4,"y":35,"v":0.6},{"x":5,"y":35,"v":0.6},{"x":6,"y":35,"v":0.55},{"x":7,"y":35,"v":0.55},{"x":8,"y":35,"v":0.85},{"x":9,"y":35,"v":1.7},{"x":10,"y":35,"v":0.85},{"x":11,"y":35,"v":0.55},{"x":12,"y":35,"v":0.55},{"x":13,"y":35,"v":0.6},{"x":14,"y":35,"v":0.6},{"x":15,"y":35,"v":0.65},{"x":16,"y":35,"v":0.18},{"x":17,"y":35,"v":0.06},{"x":18,"y":35,"v":0.03},{"x":19,"y":35,"v":0.06},{"x":20,"y":35,"v":0.18},{"x":21,"y":35,"v":0.65},{"x":22,"y":35,"v":0.6},{"x":23,"y":35,"v":0.6},{"x":24,"y":35,"v":0.55},{"x":25,"y":35,"v":0.55},{"x":26,"y":35,"v":0.85},{"x":27,"y":35,"v":1.7},{"x":28,"y":35,"v":0.85},{"x":29,"y":35,"v":0.55},{"x":30,"y":35,"v":0.55},{"x":31,"y":35,"v":0.6},{"x":32,"y":35,"v":0.6},{"x":33,"y":35,"v":0.65},{"x":34,"y":35,"v":0.18},{"x":35,"y":35,"v":0.06},{"x":36,"y":35,"v":0.03}
]},"mark":{"type":"rect","width":85.4,"height":88.3,"clip":true},"encoding":{"x":{"field":"x","type":"quantitative","scale":{"domain":[0,36],"nice":false,"zero":false},"axis":{"orient":"bottom","values":[7.162,14.324,21.486,28.649,35.81],"tickSize":-71,"zindex":1}},"y":{"field":"y","type":"quantitative","scale":{"domain":[-0.063,34.72],"nice":false,"zero":false},"axis":{"orient":"left","values":[6.858,13.779,20.7,27.621,34.542],"tickSize":-71,"zindex":1}},"color":{"field":"v","type":"quantitative","legend":null,"scale":{"domain":[0,0.05,0.125,0.25,0.5,0.75,1,1.25,1.5,1.75,2,2.25,2.5,2.75,3,3.25,3.5,3.75,4,4.25,4.5,4.75,5],"range":["#000000","#1a0010","#280028","#39004f","#510096","#6301ce","#7202f3","#8004ff","#8c07f3","#970bce","#a11096","#ab174f","#b42000","#bd2a00","#c63700","#ce4600","#d55700","#dd6c00","#e48300","#eb9d00","#f2ba00","#f9db00","#ffff00"]}}}},{"data":{"values":[{"x":0,"y":0}]},"mark":{"type":"point","opacity":0},"encoding":{"x":{"field":"x","type":"quantitative","scale":{"domain":[0,36],"nice":false,"zero":false},"axis":{"orient":"top","values":[7.162,14.324,21.486,28.649,35.81],"tickSize":-71,"zindex":1}},"y":{"field":"y","type":"quantitative","scale":{"domain":[-0.063,34.72],"nice":false,"zero":false},"axis":{"orient":"right","values":[6.858,13.779,20.7,27.621,34.542],"tickSize":-71,"zindex":1}}}}],"resolve":{"axis":{"x":"independent","y":"independent"}}},{"width":151.5,"height":3037,"layer":[{"data":{"values":[{"v":0},{"v":0.05},{"v":0.1},{"v":0.15},{"v":0.2},{"v":0.25},{"v":0.3},{"v":0.35},{"v":0.4},{"v":0.45},{"v":0.5},{"v":0.55},{"v":0.6},{"v":0.65},{"v":0.7},{"v":0.75},{"v":0.8},{"v":0.85},{"v":0.9},{"v":0.95},{"v":1},{"v":1.05},{"v":1.1},{"v":1.15},{"v":1.2},{"v":1.25},{"v":1.3},{"v":1.35},{"v":1.4},{"v":1.45},{"v":1.5},{"v":1.55},{"v":1.6},{"v":1.65},{"v":1.7},{"v":1.75},{"v":1.8},{"v":1.85},{"v":1.9},{"v":1.95},{"v":2},{"v":2.05},{"v":2.1},{"v":2.15},{"v":2.2},{"v":2.25},{"v":2.3},{"v":2.35},{"v":2.4},{"v":2.45},{"v":2.5},{"v":2.55},{"v":2.6},{"v":2.65},{"v":2.7},{"v":2.75},{"v":2.8},{"v":2.85},{"v":2.9},{"v":2.95},{"v":3},{"v":3.05},{"v":3.1},{"v":3.15},{"v":3.2},{"v":3.25},{"v":3.3},{"v":3.35},{"v":3.4},{"v":3.45},{"v":3.5},{"v":3.55},{"v":3.6},{"v":3.65},{"v":3.7},{"v":3.75},{"v":3.8},{"v":3.85},{"v":3.9},{"v":3.95},{"v":4},{"v":4.05},{"v":4.1},{"v":4.15},{"v":4.2},{"v":4.25},{"v":4.3},{"v":4.35},{"v":4.4},{"v":4.45},{"v":4.5},{"v":4.55},{"v":4.6},{"v":4.65},{"v":4.7},{"v":4.75},{"v":4.8},{"v":4.85},{"v":4.9},{"v":4.95},{"v":5}]},"mark":{"type":"rect","height":31.5,"clip":true},"encoding":{"x":{"datum":0,"type":"quantitative","scale":{"domain":[0,1],"nice":false},"axis":{"orient":"bottom","ticks":false,"zindex":1}},"x2":{"datum":1},"y":{"field":"v","type":"quantitative","scale":{"domain":[0,5],"nice":false},"axis":{"orient":"left","values":[1,2,3,4],"tickSize":-36,"zindex":1}},"color":{"field":"v","type":"quantitative","legend":null,"scale":{"domain":[0,0.05,0.125,0.25,0.5,0.75,1,1.25,1.5,1.75,2,2.25,2.5,2.75,3,3.25,3.5,3.75,4,4.25,4.5,4.75,5],"range":["#000000","#1a0010","#280028","#39004f","#510096","#6301ce","#7202f3","#8004ff","#8c07f3","#970bce","#a11096","#ab174f","#b42000","#bd2a00","#c63700","#ce4600","#d55700","#dd6c00","#e48300","#eb9d00","#f2ba00","#f9db00","#ffff00"]}}}},{"data":{"values":[{"x":0,"v":0}]},"mark":{"type":"point","opacity":0},"encoding":{"x":{"field":"x","type":"quantitative","scale":{"domain":[0,1],"nice":false},"axis":{"orient":"top","ticks":false,"zindex":1}},"y":{"field":"v","type":"quantitative","scale":{"domain":[0,5],"nice":false},"axis":{"orient":"right","values":[0,1,2,3,4,5],"tickSize":-36,"zindex":1,"tickOpacity":{"condition":{"test":"datum.value==0||datum.value==5","value":0},"value":1},"labels":true,"labelFont":"Liberation Sans","labelFontSize":110,"labelColor":"black","labelPadding":137,"labelOverlap":false,"labelFlush":false}}}}],"resolve":{"axis":{"x":"independent","y":"independent"}}}]}
